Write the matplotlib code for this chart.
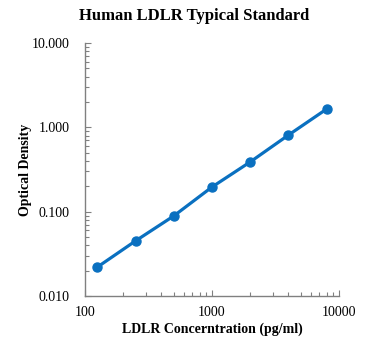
import matplotlib
matplotlib.use("Agg")
import matplotlib.pyplot as plt
from matplotlib.ticker import LogLocator, FixedLocator, FixedFormatter, NullFormatter

conc = [125, 250, 500, 1000, 2000, 4000, 8000]
od = [0.022, 0.045, 0.089, 0.196, 0.389, 0.81, 1.65]
xticks = [100, 1000, 10000]
xticklabels = ["100", "1000", "10000"]
yticks = [0.01, 0.1, 1, 10]
yticklabels = ["0.010", "0.100", "1.000", "10.000"]

plt.rcParams['font.family'] = ['Liberation Serif', 'DejaVu Serif']

fig = plt.figure(figsize=(3.70, 3.53), dpi=100)
ax = fig.add_axes([85/370, 1-296/353, (339-85)/370, (296-43)/353])
color = '#0A70C0'
ax.plot(conc, od, color=color, lw=2.3, marker='o', ms=6.5, zorder=3)
ax.set_xscale('log')
ax.set_yscale('log')
ax.set_xlim(100, 10000)
ax.set_ylim(0.01, 10)
ax.xaxis.set_major_locator(FixedLocator(xticks))
ax.xaxis.set_major_formatter(FixedFormatter(xticklabels))
ax.yaxis.set_major_locator(FixedLocator(yticks))
ax.yaxis.set_major_formatter(FixedFormatter(yticklabels))
ax.xaxis.set_minor_locator(LogLocator(base=10, subs=range(2, 10)))
ax.yaxis.set_minor_locator(LogLocator(base=10, subs=range(2, 10)))
ax.xaxis.set_minor_formatter(NullFormatter())
ax.yaxis.set_minor_formatter(NullFormatter())
for s in ['top', 'right']:
    ax.spines[s].set_visible(False)
for s in ['left', 'bottom']:
    ax.spines[s].set_color('#808080')
    ax.spines[s].set_linewidth(1.0)
ax.tick_params(which='both', direction='in', color='#808080', width=0.8, labelsize=10)
ax.tick_params(axis='y', pad=11)
ax.tick_params(axis='x', pad=7)
ax.tick_params(which='major', length=4)
ax.tick_params(which='minor', length=3)
fig.text(194/370, 1-16/353, "Human LDLR Typical Standard", fontsize=12, fontweight='bold',
         ha='center', va='center')
ax.set_xlabel("LDLR Concerntration (pg/ml)", fontsize=10, fontweight='bold', labelpad=3)
ax.set_ylabel("Optical Density", fontsize=10, fontweight='bold', labelpad=0)
fig.savefig("out.png", dpi=100)
